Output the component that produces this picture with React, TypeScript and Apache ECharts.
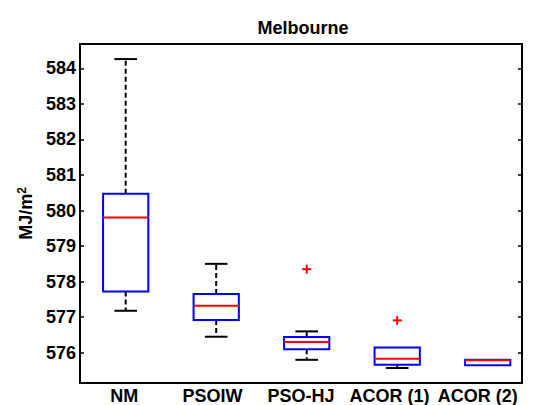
import React, { useEffect, useRef } from "react";
import * as echarts from "echarts";

const categories = ["NM", "PSOIW", "PSO-HJ", "ACOR (1)", "ACOR (2)"];
// [lower whisker, Q1, median, Q3, upper whisker]
const boxStats = [
  [577.18, 577.72, 579.8, 580.47, 584.26],
  [576.45, 576.92, 577.32, 577.65, 578.5],
  [575.8, 576.1, 576.3, 576.44, 576.6],
  [575.57, 575.66, 575.83, 576.15, 576.15],
  [575.65, 575.65, 575.79, 575.8, 575.8],
];
// [category index, value]
const outliers = [
  [2, 578.35],
  [3, 576.91],
];
const yTicks = [576, 577, 578, 579, 580, 581, 582, 583, 584];

const FONT = "'Liberation Sans', Arial, sans-serif";

export default function App() {
  const ref = useRef<HTMLDivElement>(null);
  useEffect(() => {
    const chart = echarts.init(ref.current!, undefined, { renderer: "svg" });
    const boxData = boxStats.map((s, i) => [i + 1, ...s]);
    const outData = outliers.map(([i, v]) => [i + 1, v]);
    chart.setOption({
      animation: false,
      title: {
        text: "Melbourne",
        left: 298,
        textAlign: "center",
        top: 14,
        textStyle: { fontFamily: FONT, fontWeight: "bold", fontSize: 18, color: "#000" },
      },
      grid: {
        left: 80,
        right: 13,
        top: 44,
        bottom: 22,
        show: true,
        borderColor: "#000",
        borderWidth: 2,
        backgroundColor: "#fff",
      },
      xAxis: [
        {
          type: "category",
          data: categories,
          boundaryGap: true,
          axisLine: { show: true, lineStyle: { color: "#000", width: 2 } },
          axisTick: { show: false },
          axisLabel: {
            interval: 0,
            hideOverlap: false,
            margin: 4,
            fontFamily: FONT,
            fontWeight: "bold",
            fontSize: 18,
            color: "#000",
          },
          splitLine: { show: false },
        },
        {
          type: "value",
          min: 0.495,
          max: 5.379,
          show: false,
          splitLine: { show: false },
        },
      ],
      yAxis: [
        {
          type: "value",
          min: 575.148,
          max: 584.684,
          name: "{a|MJ/m}{b|2}",
          nameLocation: "middle",
          nameGap: 44,
          nameRotate: 90,
          nameTextStyle: {
            rich: {
              a: { fontFamily: FONT, fontWeight: "bold", fontSize: 18, color: "#000" },
              b: {
                fontFamily: FONT,
                fontWeight: "bold",
                fontSize: 12,
                color: "#000",
                verticalAlign: "top",
                padding: [0, 0, 8, 0],
              },
            },
          },
          axisLine: { show: true, lineStyle: { color: "#000", width: 2 } },
          axisTick: {
            show: true,
            inside: true,
            length: 4,
            lineStyle: { color: "#000", width: 1.5 },
            customValues: yTicks,
          },
          axisLabel: {
            margin: 4,
            fontFamily: FONT,
            fontWeight: "bold",
            fontSize: 18,
            color: "#000",
            customValues: yTicks,
          },
          splitLine: { show: false },
        },
        {
          type: "value",
          position: "right",
          min: 575.148,
          max: 584.684,
          axisLine: { show: true, lineStyle: { color: "#000", width: 2 } },
          axisTick: {
            show: true,
            inside: true,
            length: 4,
            lineStyle: { color: "#000", width: 1.5 },
            customValues: yTicks,
          },
          axisLabel: { show: false },
          splitLine: { show: false },
        },
      ],
      series: [
        {
          type: "custom",
          xAxisIndex: 1,
          yAxisIndex: 0,
          data: boxData,
          encode: { x: 0, y: [1, 2, 3, 4, 5] },
          renderItem: (params: any, api: any) => {
            const x = api.value(0);
            const lo = api.value(1);
            const q1 = api.value(2);
            const med = api.value(3);
            const q3 = api.value(4);
            const hi = api.value(5);
            const pL = api.coord([x - 0.25, q3]);
            const pR = api.coord([x + 0.25, q1]);
            const cx = api.coord([x, 0])[0];
            const capL = api.coord([x - 0.125, 0])[0];
            const capR = api.coord([x + 0.125, 0])[0];
            const yLo = api.coord([x, lo])[1];
            const yQ1 = api.coord([x, q1])[1];
            const yMed = api.coord([x, med])[1];
            const yQ3 = api.coord([x, q3])[1];
            const yHi = api.coord([x, hi])[1];
            const children: any[] = [];
            const dashed = { stroke: "#000", lineWidth: 2, lineDash: [5, 3] };
            const solid = { stroke: "#000", lineWidth: 2 };
            if (hi > q3) {
              children.push({ type: "line", shape: { x1: cx, y1: yQ3, x2: cx, y2: yHi }, style: dashed });
              children.push({ type: "line", shape: { x1: capL, y1: yHi, x2: capR, y2: yHi }, style: solid });
            }
            if (lo < q1) {
              children.push({ type: "line", shape: { x1: cx, y1: yQ1, x2: cx, y2: yLo }, style: dashed });
              children.push({ type: "line", shape: { x1: capL, y1: yLo, x2: capR, y2: yLo }, style: solid });
            }
            children.push({
              type: "rect",
              shape: { x: pL[0], y: pL[1], width: pR[0] - pL[0], height: pR[1] - pL[1] },
              style: { fill: "none", stroke: "#0000ff", lineWidth: 2 },
            });
            children.push({
              type: "line",
              shape: { x1: pL[0], y1: yMed, x2: pR[0], y2: yMed },
              style: { stroke: "#ff0000", lineWidth: 2 },
            });
            return { type: "group", children };
          },
          z: 5,
        },
        {
          type: "custom",
          xAxisIndex: 1,
          yAxisIndex: 0,
          data: outData,
          encode: { x: 0, y: 1 },
          renderItem: (params: any, api: any) => {
            const p = api.coord([api.value(0), api.value(1)]);
            const h = 4.5;
            const st = { stroke: "#ff0000", lineWidth: 2 };
            return {
              type: "group",
              children: [
                { type: "line", shape: { x1: p[0] - h, y1: p[1], x2: p[0] + h, y2: p[1] }, style: st },
                { type: "line", shape: { x1: p[0], y1: p[1] - h, x2: p[0], y2: p[1] + h }, style: st },
              ],
            };
          },
          z: 6,
        },
      ],
    });
    return () => chart.dispose();
  }, []);
  return (
    <div
      ref={ref}
      style={{ position: "fixed", left: 0, top: 0, width: 535, height: 405, background: "#fff" }}
    />
  );
}
